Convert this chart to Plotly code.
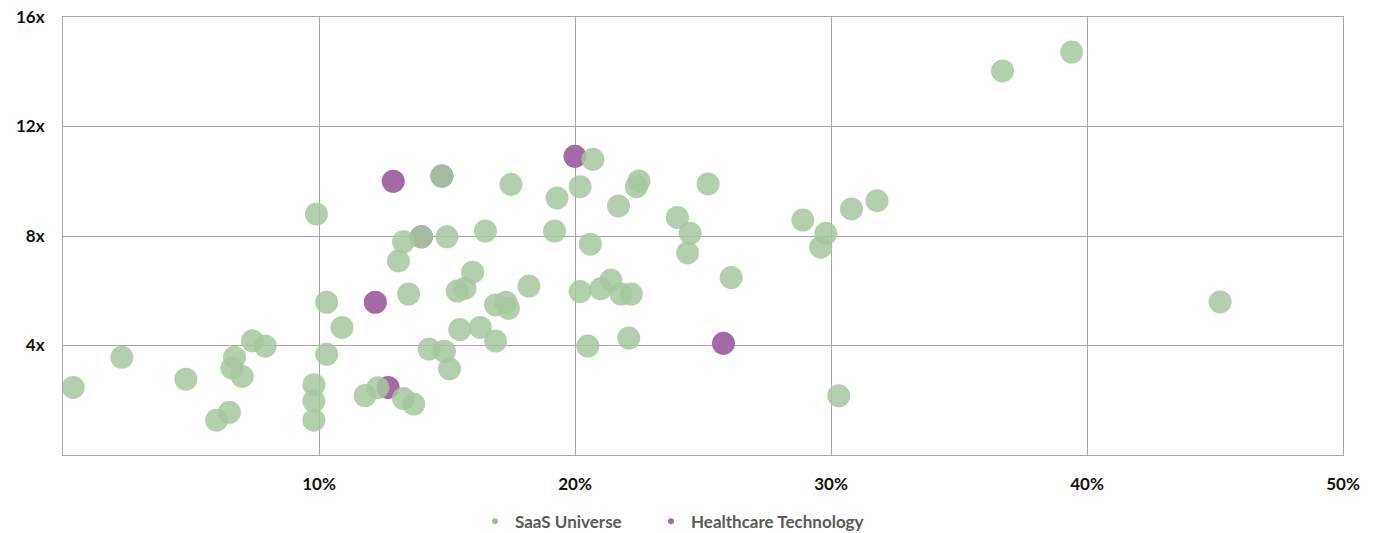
import plotly.graph_objects as go

# Revenue growth (%) vs. EV / revenue multiple (x)
saas_growth = [0.4, 2.3, 4.8, 6.0, 6.5, 6.6, 6.7, 7.0, 7.4, 7.9, 9.8, 9.8, 9.8, 9.9,
               10.3, 10.3, 10.9, 11.8, 12.3, 13.3, 13.7, 13.1, 13.3, 14.0, 14.8, 15.0,
               13.5, 14.3, 14.9, 15.1, 15.4, 15.7, 15.5, 16.0, 16.3, 16.5, 16.9, 16.9,
               17.3, 17.4, 17.5, 18.2, 19.2, 19.3, 20.2, 20.7, 20.6, 20.2, 21.0, 21.4,
               21.8, 22.2, 20.5, 22.1, 21.7, 22.4, 22.5, 24.0, 24.5, 24.4, 25.2, 26.1,
               28.9, 29.8, 29.6, 30.8, 31.8, 30.3, 36.7, 39.4, 45.2]
saas_multiple = [2.47, 3.57, 2.77, 1.27, 1.56, 3.17, 3.57, 2.87, 4.17, 3.98, 2.57, 1.97, 1.27, 8.8,
                 5.58, 3.68, 4.66, 2.17, 2.46, 2.06, 1.86, 7.09, 7.79, 7.97, 10.19, 7.97,
                 5.88, 3.87, 3.79, 3.15, 5.99, 6.09, 4.58, 6.68, 4.66, 8.18, 5.48, 4.16,
                 5.58, 5.36, 9.89, 6.17, 8.18, 9.39, 9.8, 10.8, 7.7, 5.97, 6.07, 6.39,
                 5.88, 5.88, 3.98, 4.27, 9.1, 9.8, 10.01, 8.68, 8.1, 7.38, 9.9, 6.48,
                 8.58, 8.1, 7.59, 8.99, 9.29, 2.16, 14.03, 14.72, 5.59]

hc_growth = [12.9, 14.8, 14.0, 12.2, 12.7, 20.0, 25.8]
hc_multiple = [10.0, 10.19, 7.97, 5.58, 2.47, 10.91, 4.08]

series_names = ["SaaS Universe", "Healthcare Technology"]
x_ticks = [10, 20, 30, 40, 50]
x_tick_labels = ["10%", "20%", "30%", "40%", "50%"]
y_ticks = [4, 8, 12, 16]
y_tick_labels = ["4x", "8x", "12x", "16x"]

GREEN = "rgba(166,199,159,0.86)"
PURPLE = "#a36aa6"
GREEN_SOLID = "#9cc493"

fig = go.Figure()

# Healthcare points sit underneath the SaaS points
fig.add_trace(go.Scatter(x=hc_growth, y=hc_multiple, mode="markers",
                         marker=dict(size=23, color=PURPLE, line=dict(width=0)),
                         showlegend=False, hoverinfo="x+y"))
fig.add_trace(go.Scatter(x=saas_growth, y=saas_multiple, mode="markers",
                         marker=dict(size=23, color=GREEN, line=dict(width=0)),
                         showlegend=False, hoverinfo="x+y"))

# Small-dot legend entries, each in its own legend box
for name, col, lg in zip(series_names, [GREEN_SOLID, PURPLE], ["legend", "legend2"]):
    fig.add_trace(go.Scatter(x=[None], y=[None], mode="markers", name=name,
                             marker=dict(size=6, color=col), legend=lg))

axis_font = dict(family="Lato, 'Open Sans', sans-serif", size=17, color="#111111", weight="bold")
legend_font = dict(family="Lato, 'Open Sans', sans-serif", size=17, color="#5a5a5a", weight="bold")
legend_common = dict(orientation="h", xref="container", xanchor="left",
                     yref="container", y=0.021, yanchor="middle",
                     font=legend_font, itemwidth=30, bgcolor="rgba(0,0,0,0)")

fig.update_layout(
    width=1386, height=533,
    margin=dict(l=63, r=43, t=17, b=78, autoexpand=False),
    paper_bgcolor="white", plot_bgcolor="white",
    showlegend=True,
    legend=dict(x=(497 - 22) / 1386, **legend_common),
    legend2=dict(x=(673 - 22) / 1386, **legend_common),
    xaxis=dict(range=[0, 50], tickvals=x_ticks, ticktext=x_tick_labels,
               showgrid=True, gridcolor="#a6a6a6", gridwidth=1,
               showline=True, linecolor="#a6a6a6", linewidth=1, mirror=True,
               zeroline=False, ticks="", tickfont=axis_font, ticklabelstandoff=14),
    yaxis=dict(range=[0, 16], tickvals=y_ticks, ticktext=y_tick_labels,
               showgrid=True, gridcolor="#a6a6a6", gridwidth=1,
               showline=True, linecolor="#a6a6a6", linewidth=1, mirror=True,
               zeroline=False, ticks="", tickfont=axis_font, ticklabelstandoff=14),
)

fig.write_html("out.html")
